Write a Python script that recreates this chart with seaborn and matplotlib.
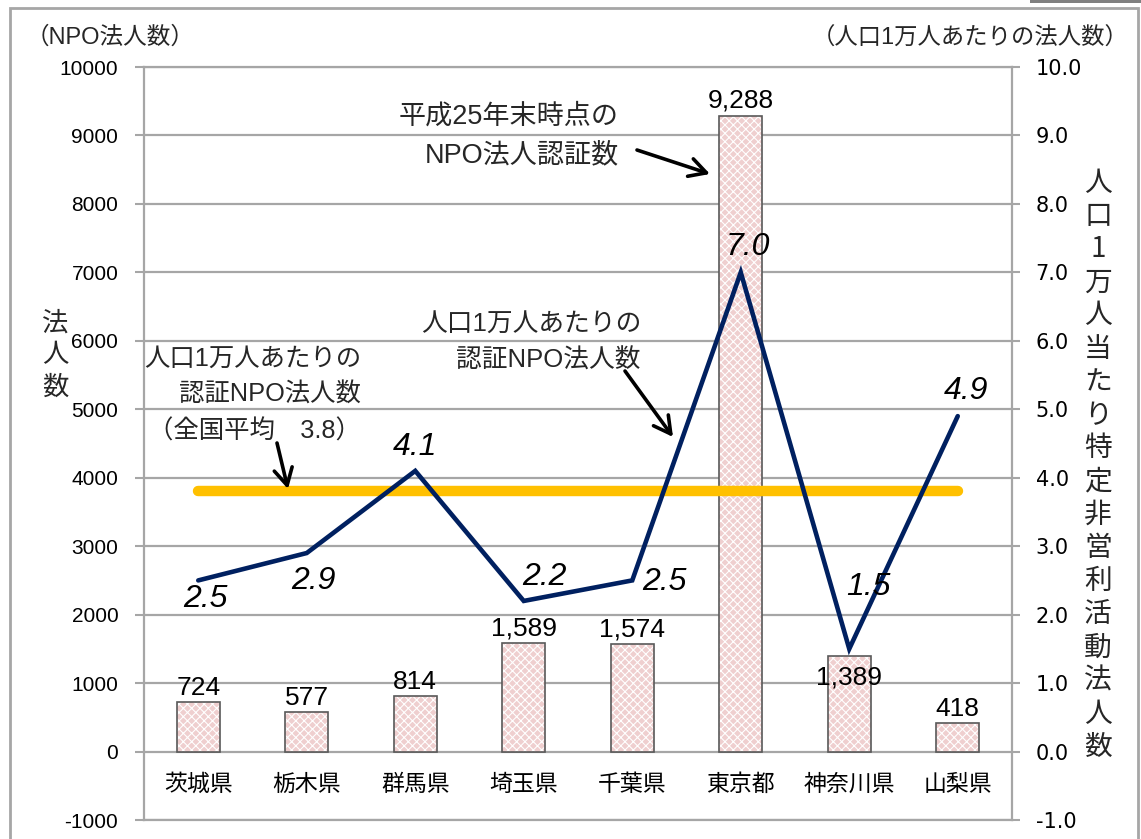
import matplotlib
matplotlib.use("Agg")
import matplotlib.pyplot as plt
import seaborn as sns
import pandas as pd
from matplotlib.patches import Rectangle
from matplotlib.text import Annotation

# ---------------- data ----------------
prefectures = ["茨城県", "栃木県", "群馬県", "埼玉県", "千葉県", "東京都", "神奈川県", "山梨県"]
npo_counts = [724, 577, 814, 1589, 1574, 9288, 1389, 418]
per_10k = [2.5, 2.9, 4.1, 2.2, 2.5, 7.0, 1.5, 4.9]
national_avg = 3.8
left_ticks = [-1000, 0, 1000, 2000, 3000, 4000, 5000, 6000, 7000, 8000, 9000, 10000]
right_ticks = [-1.0, 0.0, 1.0, 2.0, 3.0, 4.0, 5.0, 6.0, 7.0, 8.0, 9.0, 10.0]

title_left = "（NPO法人数）"
title_right = "（人口1万人あたりの法人数）"
ylabel_left = "法人数"
ylabel_right = "人口1万人当たり特定非営利活動法人数"
note_bar = ["平成25年末時点の", "NPO法人認証数"]
note_line = ["人口1万人あたりの", "認証NPO法人数"]
note_avg = ["人口1万人あたりの", "認証NPO法人数", "（全国平均　3.8）"]

# ---------------- style ----------------
BAR_FACE = "#EFCFCF"
BAR_EDGE = "#595959"
LINE_C = "#002060"
AVG_C = "#FFC000"
GRID_C = "#A6A6A6"
W, H = 1141, 839

sns.set_theme(style="white")
plt.rcParams["font.family"] = ["Liberation Sans", "Noto Sans CJK JP", "DejaVu Sans"]
plt.rcParams["hatch.linewidth"] = 0.8

df = pd.DataFrame({"pref": prefectures, "count": npo_counts, "rate": per_10k,
                   "avg": [national_avg] * len(prefectures)})

fig = plt.figure(figsize=(W / 100, H / 100), dpi=100)
ax = fig.add_axes([144 / W, 1 - 820 / H, (1012 - 144) / W, (820 - 67) / H])

# bars: hatched pink fill, then outline
sns.barplot(data=df, x="pref", y="count", color=BAR_FACE, saturation=1, width=0.4,
            errorbar=None, edgecolor="white", linewidth=0, hatch="xxxx", ax=ax)
sns.barplot(data=df, x="pref", y="count", color=BAR_EDGE, saturation=1, width=0.4,
            errorbar=None, fill=False, linewidth=1.2, ax=ax)

ax.set_xlim(-0.5, len(prefectures) - 0.5)
ax.set_ylim(left_ticks[0], left_ticks[-1])
ax.set_yticks(left_ticks)
ax.set_yticklabels([str(t) for t in left_ticks], fontsize=15, family=["Liberation Sans"])
ax.set_xlabel("")
ax.set_ylabel("")
ax.set_axisbelow(True)
ax.yaxis.grid(True, color=GRID_C, linewidth=1.6)
ax.tick_params(axis="y", length=6.5, width=1.5, color=GRID_C, pad=12, labelcolor="black")
ax.tick_params(axis="x", length=0, pad=-34, labelsize=16.5, labelcolor="black")
for s in ax.spines.values():
    s.set_color(GRID_C)
    s.set_linewidth(1.6)
    s.set_visible(True)

# bar value labels
bar_offsets = [14, 14, 14, 14, 14, 15, -21, 14]
for i, (v, off) in enumerate(zip(npo_counts, bar_offsets)):
    ax.annotate(f"{v:,}", xy=(i, v), xytext=(0, off), textcoords="offset pixels",
                ha="center", va="center", fontsize=19, color="black")

# secondary axis with the rate line
ax2 = ax.twinx()
sns.lineplot(data=df, x="pref", y="avg", color=AVG_C, linewidth=7.5,
             solid_capstyle="round", ax=ax2)
sns.lineplot(data=df, x="pref", y="rate", color=LINE_C, linewidth=3.3, sort=False,
             solid_joinstyle="miter", ax=ax2)
ax2.set_ylim(right_ticks[0], right_ticks[-1])
ax2.set_yticks(right_ticks)
ax2.set_yticklabels([f"{t:.1f}" for t in right_ticks], fontsize=15, family=["DejaVu Sans"])
ax2.set_xlabel("")
ax2.set_ylabel("")
ax2.tick_params(axis="y", length=6, width=1.5, color=GRID_C, pad=11, labelcolor="black")
for s in ax2.spines.values():
    s.set_visible(False)

line_offsets = [(7, -19), (7, -28), (0, 24), (21, 24), (32, -2), (7, 25), (19, 62), (8, 25)]
for i, (v, (dx, dy)) in enumerate(zip(per_10k, line_offsets)):
    ax2.annotate(f"{v:.1f}", xy=(i, v), xytext=(dx, dy), textcoords="offset pixels",
                 ha="center", va="center", fontsize=23, style="italic", color="black")

# ---------------- texts & arrows (figure pixels, origin bottom-left) ----------------
def P(x, y):
    return (x, H - y)

def lines_right(lines, x_right, ys, size):
    for t, y in zip(lines, ys):
        fig.text(x_right / W, 1 - y / H, t, ha="right", va="center", fontsize=size)

lines_right(note_bar, 619, [117, 155], 19.5)
lines_right(note_line, 641, [325, 361], 18.5)
lines_right(note_avg, 361, [359, 395, 431], 18.3)

arrow = dict(arrowstyle="->,head_length=0.55,head_width=0.3", lw=2.6, color="black",
             mutation_scale=22, shrinkA=0, shrinkB=0)
for start, tip in [((637, 150), (710, 174)), ((625, 371), (673, 437)), ((277, 443), (288, 489))]:
    fig.add_artist(Annotation("", xy=P(*tip), xycoords="figure pixels",
                              xytext=P(*start), textcoords="figure pixels",
                              arrowprops=arrow))

fig.text(110 / W, 1 - 37 / H, title_left, ha="center", va="center", fontsize=17)
fig.text(970 / W, 1 - 38 / H, title_right, ha="center", va="center", fontsize=16.8)
fig.text(55 / W, 1 - 355 / H, "\n".join(ylabel_left), ha="center", va="center",
         fontsize=19, linespacing=1.25, family=["Noto Sans CJK JP"])
fig.text(1098 / W, 1 - 465 / H, "\n".join(ylabel_right), ha="center", va="center",
         fontsize=20, linespacing=1.14, family=["Noto Sans CJK JP"])

# outer frame
fig.add_artist(Rectangle((10 / W, -0.05), (1138 - 10) / W, 1.05 - 8 / H,
                         transform=fig.transFigure, fill=False, edgecolor=GRID_C, linewidth=2))
fig.add_artist(Rectangle((1030 / W, 1 - 3 / H), (W - 1030) / W, 3 / H,
                         transform=fig.transFigure, facecolor="#808080", edgecolor="none"))

fig.savefig("out.png", dpi=100)
